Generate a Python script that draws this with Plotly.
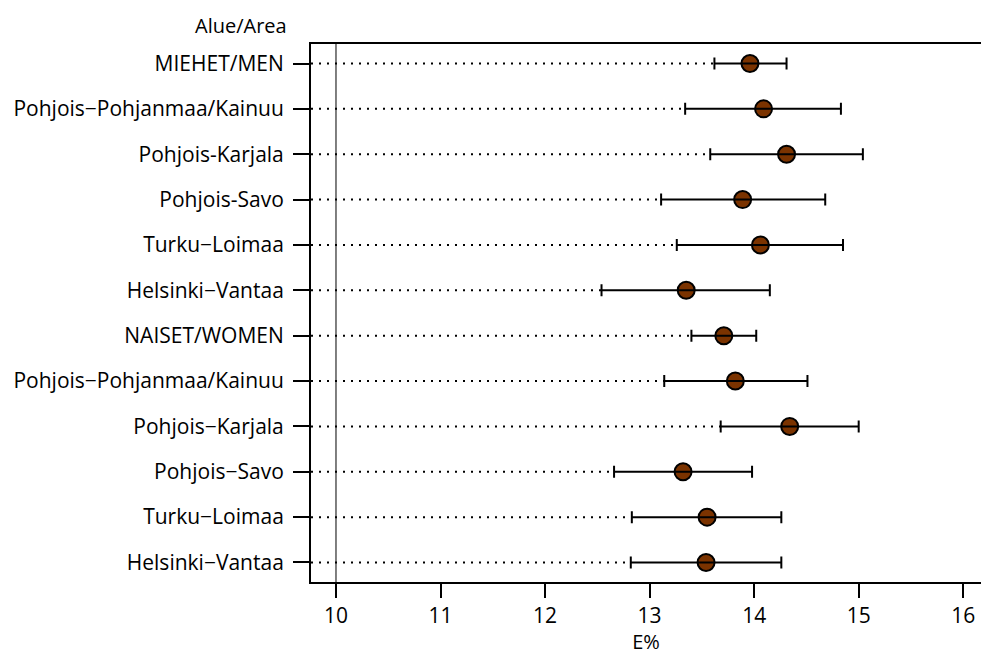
import plotly.graph_objects as go

labels = ["MIEHET/MEN", "Pohjois−Pohjanmaa/Kainuu", "Pohjois-Karjala", "Pohjois-Savo",
          "Turku−Loimaa", "Helsinki−Vantaa", "NAISET/WOMEN", "Pohjois−Pohjanmaa/Kainuu",
          "Pohjois−Karjala", "Pohjois−Savo", "Turku−Loimaa", "Helsinki−Vantaa"]
estimate = [13.96, 14.09, 14.31, 13.89, 14.06, 13.35, 13.71, 13.82, 14.34, 13.32, 13.55, 13.54]
lower = [13.62, 13.34, 13.58, 13.11, 13.26, 12.54, 13.40, 13.14, 13.68, 12.66, 12.83, 12.82]
upper = [14.31, 14.83, 15.04, 14.68, 14.85, 14.15, 14.02, 14.51, 15.00, 13.98, 14.26, 14.26]
x_ticks = [10, 11, 12, 13, 14, 15, 16]
reference_value = 10

n = len(labels)
ypos = [n - i for i in range(n)]
x_range = [9.761, 16.17]
y_range = [0.57, n + 0.43]

FONT = "Open Sans"
BROWN = "#7B3300"

fig = go.Figure()

# dotted guide lines from the left edge to each lower limit
dx, dy = [], []
for lo, y in zip(lower, ypos):
    dx += [x_range[0], lo, None]
    dy += [y, y, None]
fig.add_trace(go.Scatter(x=dx, y=dy, mode="lines",
                         line=dict(color="black", width=2, dash="2px,6px"),
                         hoverinfo="skip", showlegend=False))

# point estimates
fig.add_trace(go.Scatter(x=estimate, y=ypos, mode="markers",
                         marker=dict(size=17, color=BROWN, line=dict(color="black", width=2)),
                         showlegend=False))

# confidence intervals drawn over the markers
fig.add_trace(go.Scatter(
    x=estimate, y=ypos, mode="markers",
    marker=dict(size=1, opacity=0),
    error_x=dict(type="data", symmetric=False,
                 array=[h - e for h, e in zip(upper, estimate)],
                 arrayminus=[e - l for e, l in zip(estimate, lower)],
                 color="black", thickness=2, width=6),
    showlegend=False))

fig.add_shape(type="line", xref="x", yref="paper", x0=reference_value, x1=reference_value,
              y0=0, y1=1, line=dict(color="black", width=1))

fig.add_annotation(text="Alue/Area", xref="paper", yref="paper", x=-0.0335, y=1.0,
                   xanchor="right", yanchor="middle", yshift=19, showarrow=False,
                   font=dict(family=FONT, size=20, color="black"))

fig.update_layout(
    width=981, height=655,
    margin=dict(l=311, r=0, t=44, b=73),
    plot_bgcolor="white", paper_bgcolor="white",
    font=dict(family=FONT, color="black"),
    xaxis=dict(range=x_range, tickvals=x_ticks, ticks="outside", ticklen=14, tickwidth=2,
               tickcolor="black", showline=True, linewidth=2, linecolor="black", mirror=True,
               showgrid=False, zeroline=False, tickfont=dict(size=21),
               title=dict(text="E%", font=dict(size=20), standoff=11)),
    yaxis=dict(range=y_range, tickvals=ypos, ticktext=labels, ticks="outside", ticklen=16,
               tickwidth=2, tickcolor="black", showline=True, linewidth=2, linecolor="black",
               mirror=False, showgrid=False, zeroline=False, tickfont=dict(size=21),
               ticklabelstandoff=5),
)

fig.write_html("out.html")
